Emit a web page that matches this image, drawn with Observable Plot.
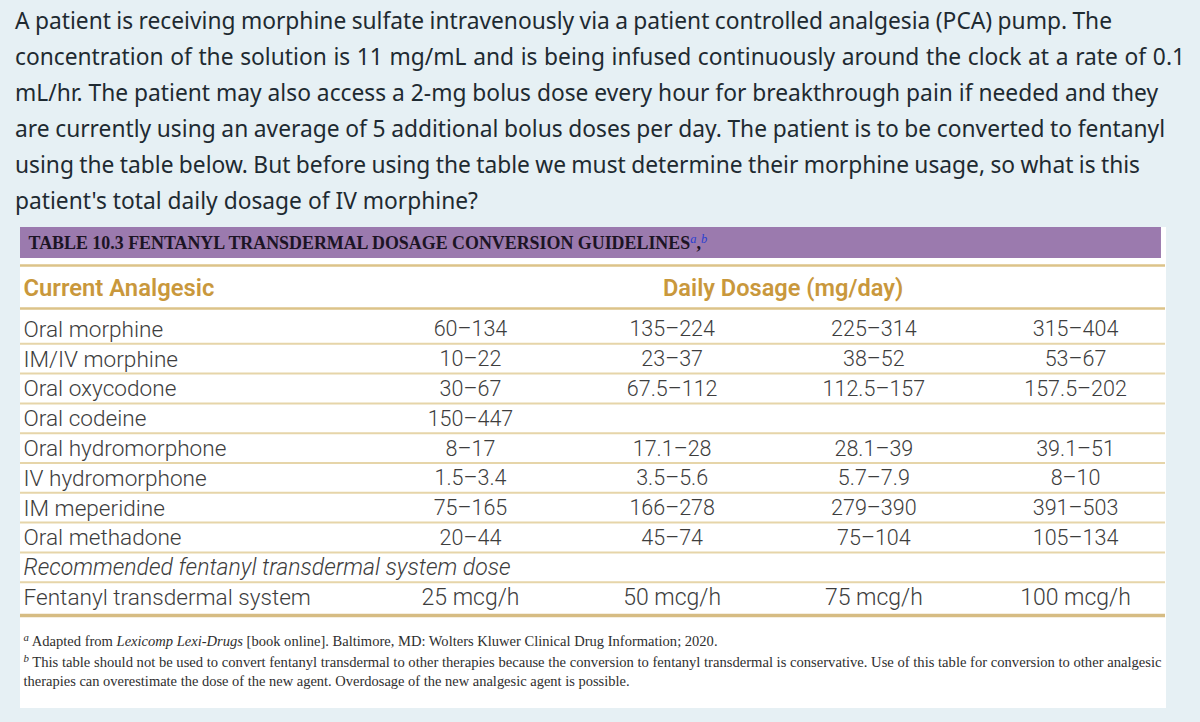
<!DOCTYPE html>
<html><head><meta charset="utf-8">
<script src="https://cdn.jsdelivr.net/npm/d3@7"></script>
<script src="https://cdn.jsdelivr.net/npm/@observablehq/plot@0.6"></script>
<style>
body{margin:0;background:#e6f0f4;width:1200px;height:722px;overflow:hidden;}
#q{font-family:"Noto Sans";color:#1e2a31;padding:3px 0 0 15px;height:222px;box-sizing:border-box;white-space:nowrap}
#q div{height:36px;line-height:36px}
#chart svg{display:block}
</style></head><body>
<div id="q"></div><div id="chart"></div>
<script>
// ---- text content ----
const questionLines = [
  "A patient is receiving morphine sulfate intravenously via a patient controlled analgesia (PCA) pump. The",
  "concentration of the solution is 11 mg/mL and is being infused continuously around the clock at a rate of 0.1",
  "mL/hr. The patient may also access a 2-mg bolus dose every hour for breakthrough pain if needed and they",
  "are currently using an average of 5 additional bolus doses per day. The patient is to be converted to fentanyl",
  "using the table below. But before using the table we must determine their morphine usage, so what is this",
  "patient's total daily dosage of IV morphine?"
];
const tableTitle = "TABLE 10.3 FENTANYL TRANSDERMAL DOSAGE CONVERSION GUIDELINES";
const titleNotes = ["a", "b"];
const columnHeaders = ["Current Analgesic", "Daily Dosage (mg/day)"];
const analgesics = ["Oral morphine", "IM/IV morphine", "Oral oxycodone", "Oral codeine",
  "Oral hydromorphone", "IV hydromorphone", "IM meperidine", "Oral methadone"];
const dose1 = ["60–134", "10–22", "30–67", "150–447", "8–17", "1.5–3.4", "75–165", "20–44"];
const dose2 = ["135–224", "23–37", "67.5–112", "", "17.1–28", "3.5–5.6", "166–278", "45–74"];
const dose3 = ["225–314", "38–52", "112.5–157", "", "28.1–39", "5.7–7.9", "279–390", "75–104"];
const dose4 = ["315–404", "53–67", "157.5–202", "", "39.1–51", "8–10", "391–503", "105–134"];
const recommendedLabel = "Recommended fentanyl transdermal system dose";
const fentanylLabel = "Fentanyl transdermal system";
const fentanylDoses = ["25 mcg/h", "50 mcg/h", "75 mcg/h", "100 mcg/h"];
const footnoteMarks = ["a", "b", ""];
const footnoteLines = [
  "Adapted from Lexicomp Lexi-Drugs [book online]. Baltimore, MD: Wolters Kluwer Clinical Drug Information; 2020.",
  "This table should not be used to convert fentanyl transdermal to other therapies because the conversion to fentanyl transdermal is conservative. Use of this table for conversion to other analgesic",
  "therapies can overestimate the dose of the new agent. Overdosage of the new analgesic agent is possible."
];
const footnoteItalic = "Lexicomp Lexi-Drugs";

// ---- question text (HTML, above the SVG), each line fitted to the reference's line length ----
const qFont = '"Noto Sans"';
const qLineWidths = [1097, 1170, 1143, 1150, 1125, 463];
const ctx = document.createElement("canvas").getContext("2d");
ctx.font = `22px ${qFont}`;
const qSize = 22 * qLineWidths[5] / ctx.measureText(questionLines[5]).width;
ctx.font = `${qSize}px ${qFont}`;
const q = d3.select("#q").style("font-size", qSize + "px");
questionLines.forEach((l, i) => {
  const w = ctx.measureText(l).width;
  const spaces = (l.match(/ /g) || []).length;
  q.append("div").style("word-spacing", ((qLineWidths[i] - w) / spaces) + "px").text(l);
});

// ---- layout in table units (x: dosage-column index, y: row index) ----
const X = {left: -2.231, right: 3.446, label: -2.216, title: -2.191, barRight: 3.426, daily: 1.55};
const Y = {top: -3.423, bottom: 12.685, barTop: -3.423, barBottom: -2.383, title: -2.886,
  topRule: -2.148, header: -1.376, headerRule: -0.705, bottomRule: 9.6, foot: [10.47, 11.17, 11.81]};

const doseCells = [dose1, dose2, dose3, dose4]
  .flatMap((col, j) => col.map((v, i) => ({v, row: i, col: j})))
  .filter(d => d.v !== "");
const recRow = analgesics.length, fenRow = analgesics.length + 1;
const rowRules = d3.range(analgesics.length + 1).map(i => i + 0.48);

const gold = "#c9983c", ink = "#3d3d3d", tFont = "Roboto";

const chart = Plot.plot({
  width: 1200, height: 500,
  marginLeft: 20, marginRight: 35, marginTop: 5, marginBottom: 15,
  x: {domain: [X.left, X.right], axis: null},
  y: {domain: [Y.top, Y.bottom], range: [5, 485], axis: null},
  style: {background: "transparent", overflow: "visible"},
  marks: [
    Plot.frame({fill: "white", stroke: "white"}),
    Plot.rect([tableTitle], {x1: () => X.left, x2: () => X.barRight, y1: () => Y.barTop, y2: () => Y.barBottom, fill: "#9b7aae"}),
    Plot.text([tableTitle], {x: () => X.title, y: () => Y.title, text: d => d, textAnchor: "start",
      fontFamily: "Liberation Serif", fontWeight: "bold", fontSize: 17.9, fill: "#1c1424"}),
    Plot.ruleY([Y.topRule, Y.headerRule], {stroke: "#dcc389", strokeWidth: 2.5}),
    Plot.ruleY(rowRules, {stroke: "#e6d5a9", strokeWidth: 2}),
    Plot.ruleY([Y.bottomRule], {stroke: "#d6bc83", strokeWidth: 3.5}),
    Plot.text([columnHeaders[0]], {x: () => X.label, y: () => Y.header, text: d => d, textAnchor: "start",
      fontFamily: tFont, fontWeight: 600, fontSize: 23.8, fill: gold}),
    Plot.text([columnHeaders[1]], {x: () => X.daily, y: () => Y.header, text: d => d,
      fontFamily: tFont, fontWeight: 600, fontSize: 23.6, fill: gold}),
    Plot.text(analgesics, {x: () => X.label, y: (d, i) => i, text: d => d, textAnchor: "start",
      fontFamily: tFont, fontWeight: 300, fontSize: 22.6, fill: ink}),
    Plot.text(doseCells, {x: "col", y: "row", text: "v",
      fontFamily: tFont, fontWeight: 300, fontSize: 21.5, fill: ink}),
    Plot.text([recommendedLabel], {x: () => X.label, y: () => recRow, text: d => d, textAnchor: "start",
      fontFamily: tFont, fontWeight: 300, fontStyle: "italic", fontSize: 23, fill: ink}),
    Plot.text([fentanylLabel], {x: () => X.label, y: () => fenRow, text: d => d, textAnchor: "start",
      fontFamily: tFont, fontWeight: 300, fontSize: 22.6, fill: ink}),
    Plot.text(fentanylDoses, {x: (d, i) => i, y: () => fenRow, text: d => d,
      fontFamily: tFont, fontWeight: 300, fontSize: 23, fill: ink}),
    Plot.text(footnoteLines, {x: () => X.label, y: (d, i) => Y.foot[i], text: d => d, textAnchor: "start",
      fontFamily: "Liberation Serif", fontSize: 14.8, fill: "#2e2e2e"})
  ]
});

// rich text: superscripts and italics
const svg = d3.select(chart);
svg.selectAll("text").filter(function() { return this.textContent === tableTitle; }).each(function() {
  const t = d3.select(this);
  t.append("tspan").attr("dy", -6).attr("font-size", 12.5).attr("font-style", "italic").attr("font-weight", "normal").attr("fill", "#2a3fd0").text(titleNotes[0]);
  t.append("tspan").attr("dy", 6).text(",");
  t.append("tspan").attr("dy", -6).attr("font-size", 12.5).attr("font-style", "italic").attr("font-weight", "normal").attr("fill", "#2a3fd0").text(titleNotes[1]);
});
const footTargets = [694, 1138, 606];
footnoteLines.forEach((line, i) => {
  svg.selectAll("text").filter(function() { return this.textContent === line; }).each(function() {
    const t = d3.select(this); t.text(null);
    if (footnoteMarks[i]) {
      t.append("tspan").attr("dy", -5).attr("font-size", 11).attr("font-style", "italic").text(footnoteMarks[i]);
      t.append("tspan").attr("dy", 5).text(" ");
    }
    const k = line.indexOf(footnoteItalic);
    if (k >= 0) {
      t.append("tspan").text(line.slice(0, k));
      t.append("tspan").attr("font-style", "italic").text(footnoteItalic);
      t.append("tspan").text(line.slice(k + footnoteItalic.length));
    } else t.append("tspan").text(line);
    t.attr("textLength", footTargets[i]).attr("lengthAdjust", "spacingAndGlyphs");
  });
});

document.getElementById("chart").appendChild(chart);
</script>
</body></html>
